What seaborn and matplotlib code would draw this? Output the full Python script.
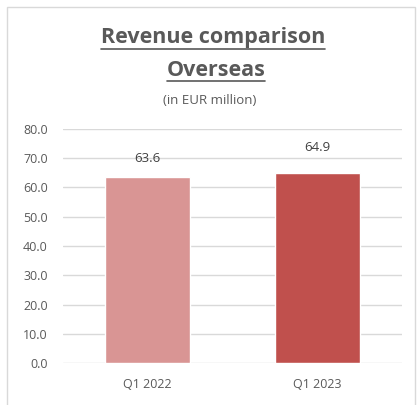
import matplotlib
matplotlib.use("Agg")
import matplotlib.pyplot as plt
from matplotlib.patches import Rectangle
import seaborn as sns
import pandas as pd

# Quarterly overseas revenue (EUR million)
quarters = ["Q1 2022", "Q1 2023"]
revenue = [63.6, 64.9]
bar_colors = ["#D99594", "#C0504D"]
y_ticks = [0, 10, 20, 30, 40, 50, 60, 70, 80]

sns.set_theme(style="white")
plt.rcParams["font.family"] = ["Open Sans", "DejaVu Sans"]

W, H = 418, 405
fig = plt.figure(figsize=(W / 100, H / 100), dpi=100)
fig.patch.set_facecolor("white")

# light chart frame
fig.add_artist(Rectangle((7 / W, -0.05), (415 - 7) / W, 1.05 - 7 / H,
                         transform=fig.transFigure, fill=False,
                         edgecolor="#D9D9D9", linewidth=1.0))

ax = fig.add_axes([63 / W, 1 - 363 / H, (402 - 63) / W, (363 - 129) / H])

df = pd.DataFrame({"quarter": quarters, "revenue": revenue})
sns.barplot(data=df, x="quarter", y="revenue", hue="quarter",
            palette=bar_colors, width=0.5, legend=False, ax=ax,
            saturation=1, zorder=3)

ax.set_ylim(0, 80)
ax.set_yticks(y_ticks)
ax.set_yticklabels([f"{t:.1f}" for t in y_ticks])
ax.set_xlim(-0.5, 1.5)
ax.yaxis.grid(True, color="#D9D9D9", linewidth=1.0, zorder=0)
ax.set_axisbelow(True)
for s in ax.spines.values():
    s.set_visible(False)
ax.set_xlabel("")
ax.set_ylabel("")
ax.tick_params(axis="both", length=0, labelsize=9, colors="#595959")
ax.tick_params(axis="y", pad=11)
ax.tick_params(axis="x", pad=11)

# value labels
label_pads = [8.5, 13.5]
for bar, val, pad in zip(ax.patches, revenue, label_pads):
    ax.annotate(f"{val:.1f}", (bar.get_x() + bar.get_width() / 2, bar.get_height()),
                xytext=(0, pad), textcoords="offset points",
                ha="center", va="bottom", fontsize=9.5, color="#404040")

# titles (underlined)
t1 = fig.text(213 / W, 1 - 38 / H, "Revenue comparison", ha="center", va="center",
              fontsize=15.5, fontweight="bold", color="#595959")
t2 = fig.text(216 / W, 1 - 71 / H, "Overseas", ha="center", va="center",
              fontsize=15.5, fontweight="bold", color="#595959")
fig.text(210 / W, 1 - 100 / H, "(in EUR million)", ha="center", va="center",
         fontsize=9.5, color="#595959")

fig.canvas.draw()
renderer = fig.canvas.get_renderer()
inv = fig.transFigure.inverted()
for t, y_px in ((t1, 49), (t2, 81)):
    bb = t.get_window_extent(renderer).transformed(inv)
    fig.add_artist(plt.Line2D([bb.x0, bb.x1], [1 - y_px / H, 1 - y_px / H],
                              transform=fig.transFigure, color="#595959", linewidth=1.2))

fig.savefig("out.png", dpi=100)
